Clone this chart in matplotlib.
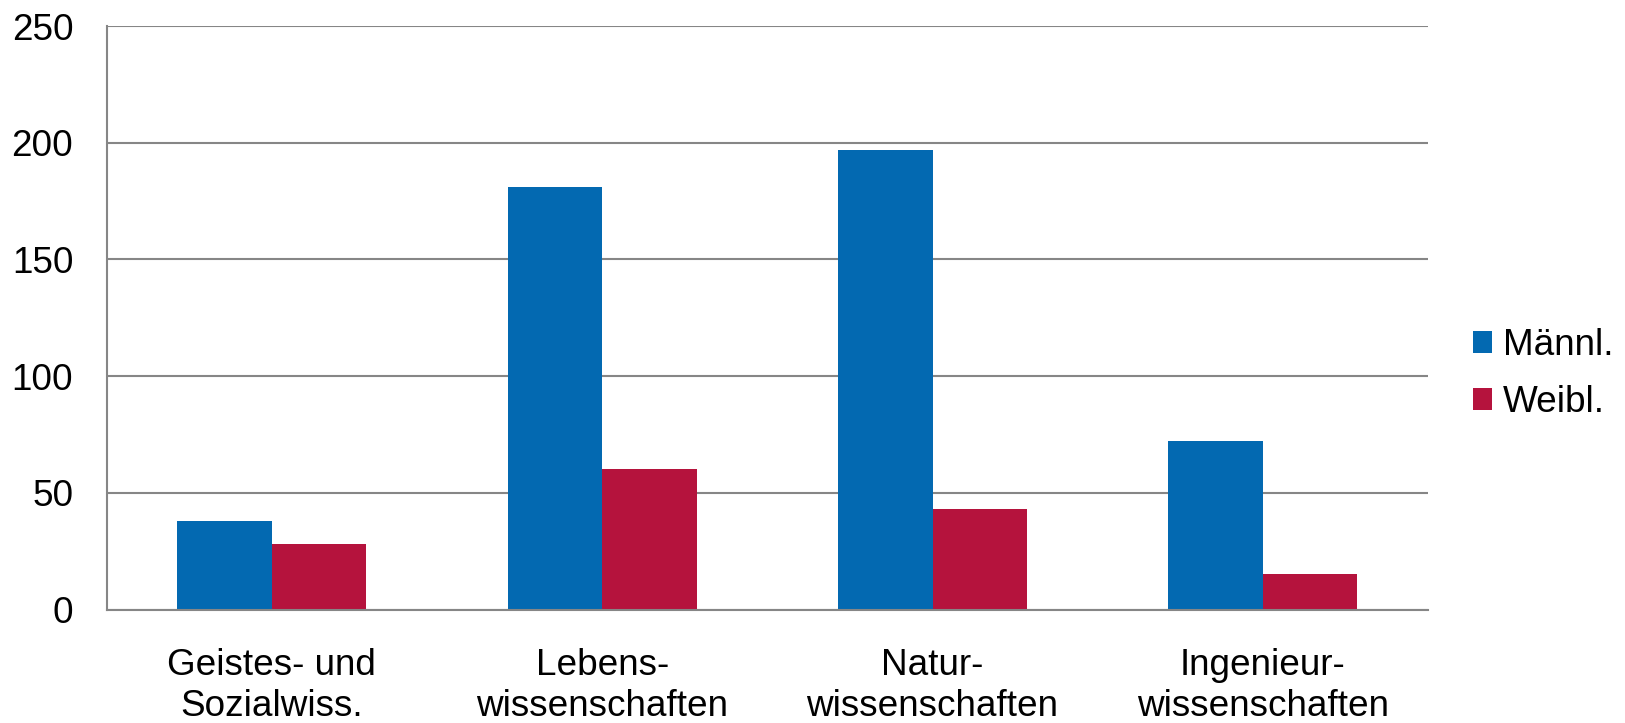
import matplotlib
matplotlib.use("Agg")
import matplotlib.pyplot as plt
import numpy as np
from matplotlib.patches import Patch

categories = ["Geistes- und\nSozialwiss.", "Lebens-\nwissenschaften",
              "Natur-\nwissenschaften", "Ingenieur-\nwissenschaften"]
series_names = ["Männl.", "Weibl."]
maennl = [38, 181, 197, 72]
weibl = [28, 60, 43, 15]
yticks = [0, 50, 100, 150, 200, 250]

blue = "#0369B1"
red = "#B5133D"
grey = "#868686"

plt.rcParams['font.family'] = ['Liberation Sans', 'DejaVu Sans']

W, H = 1625, 723
fig = plt.figure(figsize=(W / 100, H / 100), dpi=100)
ax = fig.add_axes([106.7 / W, 1 - 609.5 / H, (1428 - 106.7) / W, (609.5 - 26) / H])

x = np.arange(len(categories))
w = 1 / 3.5
ax.bar(x - w / 2, maennl, width=w, color=blue, zorder=3)
ax.bar(x + w / 2, weibl, width=w, color=red, zorder=3)

ax.set_xlim(-0.5, len(categories) - 0.5)
ax.set_ylim(0, 250)
ax.set_yticks(yticks)
ax.set_yticklabels([str(v) for v in yticks])
ax.set_xticks(x)
ax.set_xticklabels(categories, linespacing=1.2)
ax.tick_params(axis='y', length=0, pad=24, labelsize=26.6)
ax.tick_params(axis='x', length=0, pad=28, labelsize=26.6)
ax.yaxis.grid(True, color=grey, linewidth=1.5, zorder=0)
ax.set_axisbelow(True)
for s in ['top', 'right']:
    ax.spines[s].set_visible(False)
for s in ['left', 'bottom']:
    ax.spines[s].set_color(grey)
    ax.spines[s].set_linewidth(1.5)
    ax.spines[s].set_zorder(4)

handles = [Patch(facecolor=blue, edgecolor='none'), Patch(facecolor=red, edgecolor='none')]
fig.legend(handles, series_names, loc='center left',
           bbox_to_anchor=(1473 / W, 1 - 374 / H), frameon=False,
           fontsize=26.6, handlelength=0.52, handleheight=0.52,
           handletextpad=0.28, labelspacing=0.6, borderpad=0, borderaxespad=0)

fig.savefig("out.png", dpi=100)
